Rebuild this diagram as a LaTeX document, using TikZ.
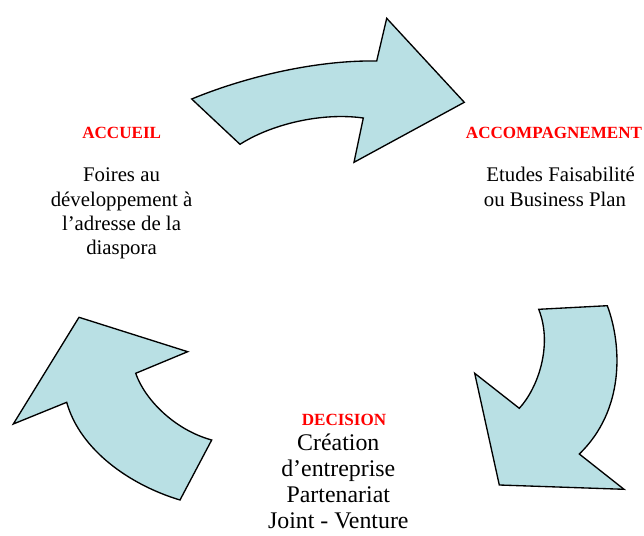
\documentclass[tikz,border=0pt]{standalone}
\usepackage{fontspec}
\setmainfont{Liberation Serif}
\definecolor{arrowfill}{RGB}{185,224,228}
\begin{document}
\begin{tikzpicture}[x=0.75pt,y=-0.75pt,
  arrowshape/.style={draw=black,fill=arrowfill,line width=1pt,line join=miter},
  title/.style={text=red,font=\fontsize{12.8pt}{15pt}\selectfont\bfseries,anchor=base,inner sep=0pt},
  body/.style={font=\fontsize{15.6pt}{18pt}\selectfont,anchor=base,inner sep=0pt},
  bodybig/.style={font=\fontsize{17.9pt}{19.5pt}\selectfont,anchor=base,inner sep=0pt}]
\useasboundingbox (0,0) rectangle (644,536);
% top arrow
\draw[arrowshape] (191.7,99) .. controls (250,75) and (320,60) .. (376.7,61)
  -- (386.7,18.3) -- (464.3,102.3) -- (354,162.3) -- (363.3,118)
  .. controls (320,112) and (270,125) .. (240,144.3) -- cycle;
% right arrow
\draw[arrowshape] (538.7,309.3) -- (607.3,305.7)
  .. controls (622,345) and (625,410) .. (579.3,454)
  -- (624,489.3) -- (499.3,485) -- (474.7,373.3) -- (519.3,408.3)
  .. controls (538,388) and (553,345) .. (538.7,309.3) -- cycle;
% left arrow
\draw[arrowshape] (211.7,440) -- (180,500)
  .. controls (130,485) and (80,450) .. (66.7,402.3)
  -- (13.3,424) -- (79,317.3) -- (187.7,351.7) -- (135.7,373.3)
  .. controls (145,400) and (175,430) .. (211.7,440) -- cycle;
% texts
\node[title] (acc) at (121.7,138) {ACCUEIL};
\node[body] (acc1) at (121.5,181.7) {Foires au};
\node[body] (acc2) at (121.5,206.7) {développement à};
\node[body] (acc3) at (121.5,230.5) {l’adresse de la};
\node[body] (acc4) at (121.5,254) {diaspora};
\node[title] (acm) at (554,138) {ACCOMPAGNEMENT};
\node[body] (acm1) at (560.7,181.7) {Etudes Faisabilité};
\node[body] (acm2) at (555,206.7) {ou Business Plan};
\node[title] (dec) at (344,425) {DECISION};
\node[bodybig] (dec1) at (338.3,450) {Création};
\node[bodybig] (dec2) at (338.3,476.5) {d’entreprise};
\node[bodybig] (dec3) at (338.3,502) {Partenariat};
\node[bodybig] (dec4) at (338.3,528) {Joint - Venture};
\end{tikzpicture}
\end{document}
